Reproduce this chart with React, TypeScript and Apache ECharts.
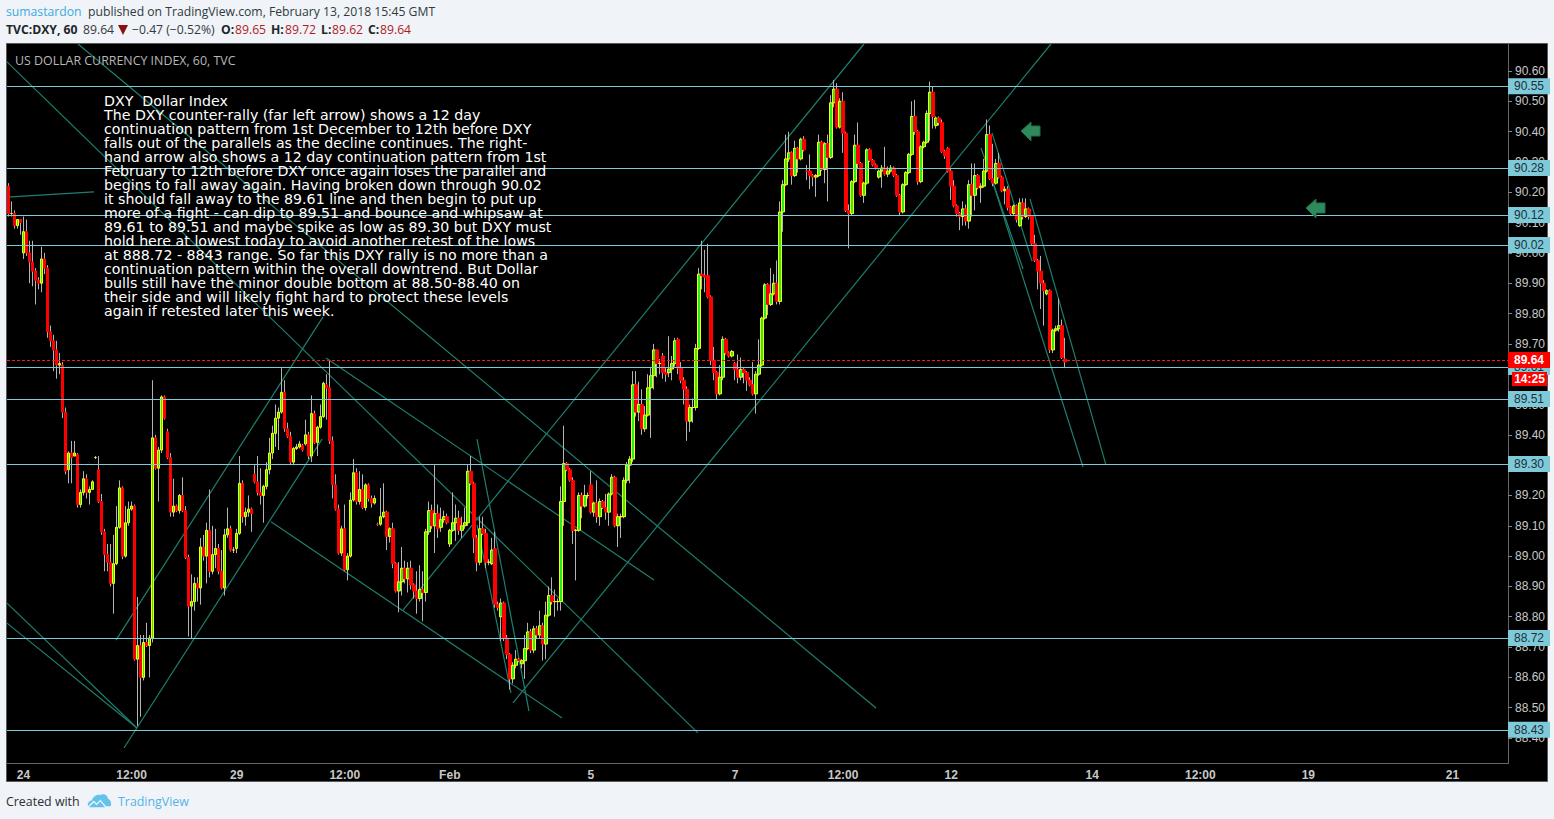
import React, { useEffect, useRef } from "react";
import * as echarts from "echarts";

// Each row: open, close, low, high
const barsJan24 = [
[90.22,90.13,90.12,90.23],[90.13,90.13,90.12,90.17],[90.13,90.09,90.08,90.14],[90.09,90.11,90.08,90.11],[90.11,90.10,90.06,90.11],
[90.00,90.07,89.98,90.12],[90.07,90.00,89.99,90.11],[90.00,89.97,89.90,90.04],[89.97,89.94,89.89,90.04],[89.94,89.91,89.83,89.95],
[89.91,89.90,89.88,89.92],[89.90,89.98,89.87,90.02],[89.98,89.95,89.93,90.00],[89.95,89.74,89.72,89.96],[89.74,89.71,89.69,89.76],
[89.71,89.68,89.61,89.73],[89.68,89.63,89.585,89.71],[89.63,89.635,89.60,89.67],[89.63,89.475,89.455,89.64],[89.475,89.28,89.27,89.49],
[89.285,89.34,89.24,89.345],[89.34,89.325,89.24,89.38],[89.33,89.34,89.33,89.38],[89.335,89.17,89.16,89.34],[89.17,89.21,89.16,89.22],
[89.21,89.255,89.20,89.28],[89.255,89.21,89.19,89.27],[89.21,89.22,89.17,89.23],[89.22,89.245,89.22,89.25],[89.325,89.325,89.32,89.33],
[89.285,89.18,89.175,89.33],[89.18,89.08,89.07,89.205],[89.08,89.005,88.95,89.09],[89.005,88.98,88.95,89.04],[88.98,88.91,88.90,89.04],
[88.91,88.975,88.81,89.07],[88.975,89.095,88.97,89.165],[89.095,89.225,89.09,89.25],[89.225,89.00,88.99,89.23],[89.00,89.11,88.995,89.165],
[89.11,89.155,89.10,89.18],[89.155,89.165,89.15,89.18],[89.165,88.66,88.655,89.17],[88.66,88.705,88.44,88.865],[88.705,88.60,88.47,88.74],
[88.60,88.715,88.59,88.74],[88.715,88.705,88.70,88.78],[88.705,88.73,88.60,88.74],[88.73,89.39,88.715,89.58],[89.39,89.29,89.285,89.40],
];
const barsJan26 = [
[89.29,89.35,89.18,89.36],[89.35,89.525,89.34,89.53],[89.525,89.455,89.45,89.53],[89.41,89.325,89.32,89.42],[89.325,89.145,89.13,89.34],
[89.145,89.165,89.13,89.255],[89.165,89.15,89.145,89.17],[89.15,89.20,89.14,89.205],[89.20,89.15,89.145,89.26],[89.15,88.995,88.99,89.165],
[88.995,88.835,88.735,89.005],[88.835,88.85,88.73,88.94],[88.85,88.91,88.82,88.93],[88.91,88.895,88.85,88.93],[88.895,89.03,88.84,89.06],
[89.03,89.00,88.985,89.07],[89.00,89.085,88.91,89.11],[89.085,88.95,88.93,89.22],[88.95,89.005,88.94,89.10],[89.005,89.025,88.96,89.09],
[89.025,88.95,88.94,89.04],[88.95,88.895,88.89,89.02],[88.895,89.07,88.87,89.09],[89.07,89.09,89.06,89.16],[89.09,89.02,89.015,89.10],
[89.02,89.02,89.01,89.03],[89.025,89.075,89.01,89.09],[89.075,89.24,89.07,89.33],[89.24,89.13,89.11,89.25],[89.13,89.145,89.10,89.16],
[89.145,89.155,89.13,89.20],[89.155,89.14,89.08,89.16],[89.27,89.245,89.24,89.30],[89.245,89.21,89.20,89.33],[89.21,89.20,89.17,89.29],
[89.20,89.23,89.11,89.235],[89.23,89.285,89.22,89.31],[89.285,89.34,89.27,89.39],[89.34,89.405,89.32,89.43],[89.405,89.455,89.36,89.50],
[89.455,89.475,89.35,89.49],[89.475,89.54,89.47,89.62],[89.54,89.42,89.41,89.58],[89.42,89.395,89.39,89.44],[89.395,89.31,89.30,89.41],
[89.31,89.355,89.30,89.36],[89.355,89.36,89.35,89.37],[89.36,89.37,89.355,89.38],[89.365,89.35,89.345,89.37],[89.37,89.40,89.365,89.45],
[89.40,89.33,89.32,89.41],[89.33,89.47,89.31,89.53],[89.47,89.375,89.37,89.48],[89.375,89.425,89.33,89.43],[89.425,89.46,89.42,89.50],
[89.46,89.57,89.455,89.575],[89.565,89.555,89.45,89.60],[89.555,89.38,89.37,89.645],[89.38,89.235,89.19,89.395],[89.235,89.155,89.15,89.27],
[89.155,89.01,89.005,89.17],[89.01,89.09,89.00,89.10],[89.09,88.955,88.95,89.17],[88.955,89.00,88.92,89.01],[89.00,89.185,88.995,89.21],
[89.185,89.275,89.18,89.32],[89.275,89.18,89.17,89.29],
];
const barsFeb1 = [
[89.18,89.22,89.17,89.28],[89.22,89.16,89.155,89.27],[89.16,89.235,89.15,89.24],[89.235,89.19,89.18,89.24],[89.19,89.175,89.16,89.20],
[89.175,89.19,89.17,89.20],[89.105,89.105,89.10,89.11],[89.105,89.13,89.10,89.225],[89.13,89.145,89.125,89.24],[89.145,89.065,89.02,89.15],
[89.065,89.09,89.045,89.095],[89.09,88.975,88.96,89.11],[88.975,88.885,88.88,88.98],[88.885,88.915,88.815,88.98],[88.915,88.96,88.87,89.03],
[88.96,88.925,88.91,88.985],[88.925,88.96,88.88,88.98],[88.96,88.905,88.89,88.985],[88.905,88.885,88.86,88.91],[88.885,88.86,88.81,88.95],
[88.86,88.89,88.85,88.97],[88.89,88.88,88.785,88.95],[88.88,89.08,88.85,89.09],[89.08,89.15,89.07,89.18],[89.15,89.10,89.09,89.17],
[89.10,89.14,89.01,89.30],[89.14,89.09,89.06,89.17],[89.095,89.12,89.08,89.16],[89.12,89.13,89.11,89.15],[89.13,89.11,89.105,89.14],
[89.04,89.085,89.03,89.09],[89.085,89.11,89.08,89.21],[89.11,89.125,89.05,89.17],[89.125,89.085,89.07,89.15],[89.085,89.10,89.06,89.13],
[89.10,89.11,89.09,89.16],[89.11,89.28,89.10,89.30],[89.28,89.24,89.235,89.33],[89.24,89.06,89.01,89.245],[89.06,88.98,88.95,89.07],
[88.98,89.09,88.97,89.13],[89.09,89.075,89.07,89.13],[89.075,88.98,88.96,89.09],[88.98,88.98,88.97,88.99],[88.975,89.02,88.97,89.06],
[89.025,88.84,88.83,89.08],[88.84,88.83,88.82,88.85],[88.80,88.845,88.72,88.86],[88.845,88.73,88.72,88.85],[88.73,88.675,88.66,88.74],
[88.675,88.595,88.56,88.68],[88.595,88.64,88.58,88.65],[88.64,88.66,88.63,88.69],[88.66,88.655,88.65,88.665],[88.645,88.655,88.63,88.66],
[88.655,88.695,88.595,88.74],[88.695,88.75,88.69,88.78],[88.75,88.69,88.68,88.76],[88.69,88.76,88.68,88.77],[88.76,88.74,88.73,88.77],
[88.74,88.77,88.73,88.82],[88.77,88.71,88.655,88.78],[88.71,88.805,88.66,88.85],[88.805,88.87,88.80,88.90],[88.87,88.85,88.84,88.93],
[88.85,88.85,88.80,88.89],[88.85,88.85,88.82,88.86],[88.85,89.18,88.82,89.23],[89.18,89.305,89.10,89.43],[89.305,89.285,89.28,89.31],
];
const barsFeb5 = [
[89.285,89.25,89.245,89.29],[89.25,89.085,89.04,89.26],[89.085,89.085,88.92,89.09],[89.085,89.20,89.08,89.21],[89.20,89.165,89.125,89.21],
[89.165,89.20,89.16,89.235],[89.20,89.20,89.19,89.21],[89.235,89.145,89.14,89.28],[89.145,89.175,89.13,89.18],[89.175,89.13,89.11,89.25],
[89.13,89.18,89.10,89.19],[89.18,89.16,89.155,89.185],[89.16,89.145,89.12,89.205],[89.145,89.205,89.10,89.21],[89.205,89.26,89.20,89.27],
[89.26,89.10,89.095,89.265],[89.10,89.13,89.03,89.14],[89.13,89.13,89.06,89.14],[89.13,89.25,89.125,89.26],[89.25,89.30,89.24,89.31],
[89.30,89.32,89.24,89.33],[89.32,89.565,89.31,89.61],[89.565,89.475,89.46,89.61],[89.475,89.50,89.445,89.575],[89.50,89.42,89.40,89.55],
[89.42,89.465,89.41,89.495],[89.465,89.555,89.46,89.60],[89.555,89.595,89.39,89.62],[89.595,89.68,89.55,89.70],[89.68,89.635,89.59,89.68],
[89.635,89.635,89.60,89.65],[89.66,89.605,89.585,89.67],[89.605,89.60,89.575,89.62],[89.605,89.617,89.59,89.725],[89.617,89.635,89.58,89.66],
[89.635,89.71,89.625,89.72],[89.715,89.62,89.60,89.72],[89.62,89.58,89.57,89.64],[89.58,89.55,89.50,89.59],[89.55,89.445,89.38,89.56],
[89.445,89.49,89.41,89.50],[89.49,89.49,89.44,89.52],[89.49,89.685,89.48,89.70],[89.685,89.93,89.68,89.95],[89.93,89.925,89.88,90.04],
[89.925,89.92,89.87,90.01],[89.925,89.855,89.85,90.03],[89.855,89.645,89.63,89.86],[89.645,89.605,89.58,89.69],[89.605,89.535,89.515,89.61],
];
const barsFeb7 = [
[89.535,89.59,89.53,89.63],[89.59,89.715,89.58,89.725],[89.715,89.67,89.665,89.72],[89.67,89.66,89.655,89.675],[89.66,89.675,89.655,89.68],
[89.635,89.615,89.58,89.64],[89.615,89.59,89.57,89.665],[89.59,89.615,89.58,89.655],[89.615,89.605,89.57,89.62],[89.605,89.58,89.545,89.61],
[89.58,89.565,89.56,89.59],[89.565,89.535,89.53,89.64],[89.535,89.60,89.47,89.61],[89.60,89.63,89.595,89.715],[89.63,89.785,89.625,89.79],
[89.785,89.895,89.78,89.90],[89.895,89.83,89.795,89.90],[89.83,89.865,89.825,89.95],[89.865,89.90,89.86,89.93],[89.90,89.84,89.83,89.975],
[89.84,90.135,89.83,90.17],[90.135,90.225,90.07,90.24],[90.225,90.31,90.22,90.39],[90.31,90.33,90.30,90.40],[90.33,90.255,90.225,90.335],
[90.255,90.345,90.25,90.37],[90.345,90.31,90.265,90.35],[90.31,90.375,90.305,90.38],[90.375,90.34,90.335,90.385],[90.27,90.27,90.24,90.29],
[90.27,90.255,90.21,90.325],[90.255,90.25,90.22,90.26],[90.25,90.255,90.185,90.26],[90.255,90.365,90.25,90.39],[90.365,90.275,90.27,90.37],
[90.275,90.36,90.23,90.365],[90.36,90.315,90.17,90.39],[90.315,90.495,90.31,90.52],[90.495,90.54,90.48,90.57],[90.54,90.415,90.41,90.56],
[90.415,90.50,90.41,90.51],[90.50,90.395,90.33,90.53],[90.395,90.14,90.135,90.40],[90.14,90.13,90.015,90.16],[90.13,90.235,90.125,90.24],
[90.235,90.355,90.23,90.39],[90.355,90.295,90.28,90.43],
];
const barsFeb9 = [
[90.295,90.19,90.185,90.30],[90.19,90.23,90.165,90.235],[90.23,90.34,90.225,90.345],[90.34,90.305,90.30,90.345],[90.305,90.29,90.285,90.31],
[90.29,90.28,90.275,90.295],[90.25,90.27,90.245,90.275],[90.27,90.28,90.215,90.29],[90.28,90.26,90.255,90.35],[90.26,90.27,90.25,90.285],
[90.27,90.28,90.265,90.29],[90.28,90.255,90.25,90.285],[90.255,90.19,90.185,90.26],[90.19,90.135,90.125,90.195],[90.135,90.225,90.13,90.23],
[90.225,90.265,90.22,90.27],[90.265,90.325,90.26,90.33],[90.325,90.45,90.32,90.50],[90.45,90.40,90.39,90.505],[90.40,90.235,90.225,90.405],
[90.235,90.35,90.23,90.355],[90.35,90.365,90.345,90.37],[90.365,90.46,90.36,90.47],[90.46,90.53,90.37,90.565],[90.53,90.45,90.41,90.55],
[90.42,90.445,90.41,90.45],[90.445,90.43,90.42,90.45],[90.43,90.335,90.33,90.44],[90.335,90.32,90.31,90.34],[90.345,90.27,90.265,90.35],
[90.27,90.22,90.175,90.28],[90.22,90.155,90.15,90.24],[90.155,90.13,90.12,90.16],[90.13,90.12,90.075,90.135],[90.12,90.145,90.09,90.17],
[90.145,90.105,90.09,90.16],[90.105,90.225,90.08,90.24],[90.225,90.19,90.12,90.295],[90.19,90.255,90.14,90.295],[90.255,90.215,90.21,90.26],
[90.215,90.22,90.165,90.23],[90.22,90.27,90.215,90.31],[90.27,90.39,90.265,90.44],[90.39,90.245,90.24,90.42],[90.245,90.23,90.22,90.36],
[90.23,90.295,90.225,90.31],[90.295,90.25,90.245,90.33],[90.25,90.205,90.20,90.255],[90.205,90.21,90.16,90.22],[90.21,90.15,90.14,90.22],
[90.15,90.13,90.125,90.155],[90.13,90.155,90.125,90.16],[90.155,90.11,90.10,90.16],[90.09,90.165,90.085,90.18],[90.165,90.12,90.11,90.18],
[90.12,90.145,90.115,90.18],[90.145,90.12,90.11,90.15],[90.12,90.03,90.025,90.125],[90.03,89.975,89.97,90.06],[89.975,89.94,89.88,89.98],
[89.94,89.90,89.815,89.99],[89.90,89.875,89.76,89.91],[89.865,89.875,89.86,89.88],[89.875,89.68,89.67,89.88],[89.68,89.745,89.67,89.75],
[89.745,89.75,89.74,89.76],[89.75,89.76,89.74,89.85],[89.76,89.655,89.65,89.78],[89.65,89.64,89.62,89.72],
];

const barSlots = 500;
const trendSpan = 501;
const tickSlots = [5, 41, 76, 112, 147, 194, 242, 278, 314, 361, 397, 433, 481];
const tickNames = ["24", "12:00", "29", "12:00", "Feb", "5", "7", "12:00", "12", "14", "12:00", "19", "21"];
const priceTicks = [88.4, 88.5, 88.6, 88.7, 88.8, 88.9, 89.0, 89.1, 89.2, 89.3, 89.4, 89.5, 89.6, 89.7, 89.8, 89.9, 90.0, 90.1, 90.2, 90.3, 90.4, 90.5, 90.6];

const levelValues = [90.55, 90.28, 90.125, 90.026, 89.624, 89.518, 89.304, 88.73, 88.427];
const levelNames = ["90.55", "90.28", "90.12", "90.02", "89.61", "89.51", "89.30", "88.72", "88.43"];
const lastPrice = 89.647;
const lastPriceName = "89.64";

// Trend lines: start slot, start price, end slot, end price
const trendLines = [
  [-0.5, 90.63, 230.1, 88.417],
  [23.2, 90.689, 289.55, 88.499],
  [-0.5, 88.845, 42.89, 88.433],
  [-0.5, 88.779, 42.89, 88.433],
  [38.55, 88.367, 104.64, 89.386],
  [35.88, 88.723, 104.97, 89.789],
  [105.98, 89.653, 215.45, 88.921],
  [87.62, 89.113, 184.75, 88.466],
  [131.68, 88.822, 285.55, 90.689],
  [168.39, 88.516, 347.96, 90.689],
  [156.38, 89.386, 173.73, 88.489],
  [156.38, 89.103, 167.72, 88.549],
  [-0.5, 90.184, 28.54, 90.201],
  [328.6, 90.231, 358.65, 89.294],
  [324.6, 90.346, 338.62, 89.947],
  [328.27, 90.396, 341.62, 89.973],
  [340.96, 90.178, 366.32, 89.30],
];

const noteLines = [
  "DXY  Dollar Index",
  "The DXY counter-rally (far left arrow) shows a 12 day",
  "continuation pattern from 1st December to 12th before DXY",
  "falls out of the parallels as the decline continues. The right-",
  "hand arrow also shows a 12 day continuation pattern from 1st",
  "February to 12th before DXY once again loses the parallel and",
  "begins to fall away again. Having broken down through 90.02",
  "it should fall away to the 89.61 line and then begin to put up",
  "more of a fight - can dip to 89.51 and bounce and whipsaw at",
  "89.61 to 89.51 and maybe spike as low as 89.30 but DXY must",
  "hold here at lowest today to avoid another retest of the lows",
  "at 888.72 - 8843 range. So far this DXY rally is no more than a",
  "continuation pattern within the overall downtrend. But Dollar",
  "bulls still have the minor double bottom at 88.50-88.40 on",
  "their side and will likely fight hard to protect these levels",
  "again if retested later this week.",
];

const UI_FONT = "'Open Sans', 'Noto Sans', sans-serif";
const AXIS_FONT = "'Liberation Sans', Arial, sans-serif";
const TEAL = "#1e7f70";
const LEVEL = "#7fcad9";

echarts.graphic.registerShape(
  "tvLogo",
  echarts.graphic.extendPath(
    "M0 14 C-1 10 2 8 4 8 C5 4 9 1 13 2 C16 0 21 2 21 6 C24 7 25 11 24 14 L19 14 L13 7 L9 11 L6 8 Z M1 15 L6 10 L9 13 L13 9 L18 15 Z",
    {}
  ) as any
);

const headText = (x: number, y: number, text: string, fill: string, extra: any = {}) => ({
  type: "text",
  x,
  y,
  z: 50,
  style: { text, fill, font: `12.2px ${UI_FONT}`, textVerticalAlign: "middle", ...extra },
});
const boldHead = { font: `bold 12.2px ${UI_FONT}` };

function buildOption() {
  const bars = [...barsJan24, ...barsJan26, ...barsFeb1, ...barsFeb5, ...barsFeb7, ...barsFeb9];
  const categories = Array.from({ length: barSlots }, (_, i) => {
    const at = tickSlots.indexOf(i);
    return at >= 0 ? tickNames[at] : "";
  });
  const hasName = (_: number, v: string) => v !== "";
  const bodies = bars.map(([o, c]) => [o, c, Math.min(o, c), Math.max(o, c)]);

  const tagLabel = (bg: string, color: string, weight: string) => ({
    show: true,
    position: "end",
    distance: 0,
    formatter: "{b}",
    backgroundColor: bg,
    color,
    fontWeight: weight,
    fontFamily: AXIS_FONT,
    fontSize: 12,
    padding: [2, 6, 2, 6],
    lineHeight: 12,
  });

  return {
    animation: false,
    backgroundColor: "#f0f3f7",
    grid: { left: 7, top: 44, width: 1501, height: 719.5, containLabel: false },
    xAxis: [
      {
        type: "category",
        data: categories,
        boundaryGap: true,
        axisLine: { onZero: false, lineStyle: { color: "#666666" } },
        axisTick: { interval: hasName, alignWithLabel: true, length: 4, lineStyle: { color: "#888888" } },
        axisLabel: { interval: hasName, color: "#c8c8c8", fontFamily: AXIS_FONT, fontSize: 12, fontWeight: "bold", margin: 5 },
        splitLine: { show: false },
      },
      { type: "value", min: -0.5, max: trendSpan - 0.5, show: false },
    ],
    yAxis: {
      type: "value",
      position: "right",
      min: 88.316,
      max: 90.689,
      axisLine: { show: true, onZero: false, lineStyle: { color: "#666666" } },
      axisTick: { show: true, length: 4, customValues: priceTicks, lineStyle: { color: "#888888" } },
      axisLabel: {
        customValues: priceTicks,
        color: "#c8c8c8",
        fontFamily: AXIS_FONT,
        fontSize: 12,
        margin: 7,
        formatter: (v: number) => v.toFixed(2),
      },
      splitLine: { show: false },
    },
    series: [
      {
        type: "line",
        z: 1,
        data: [],
        markLine: {
          silent: true,
          symbol: "none",
          animation: false,
          precision: 3,
          lineStyle: { color: LEVEL, width: 1, type: "solid" },
          label: tagLabel(LEVEL, "#20303a", "normal"),
          data: levelValues.map((v, i) => ({ yAxis: v, name: levelNames[i] })),
        },
      },
      ...trendLines.map(([x1, y1, x2, y2]) => ({
        type: "line",
        xAxisIndex: 1,
        z: 1,
        symbol: "none",
        silent: true,
        lineStyle: { color: TEAL, width: 1.2 },
        data: [[x1, y1], [x2, y2]],
      })),
      {
        type: "candlestick",
        z: 3,
        barWidth: 1,
        silent: true,
        itemStyle: { color: "#b4b4b4", color0: "#b4b4b4", borderColor: "#b4b4b4", borderColor0: "#b4b4b4", borderWidth: 1 },
        data: bars,
      },
      {
        type: "candlestick",
        z: 4,
        barWidth: 3,
        silent: true,
        itemStyle: { color: "#22ee22", color0: "#ff0000", borderColor: "#ffff00", borderColor0: "#ff0000", borderWidth: 1 },
        data: bodies,
      },
      {
        type: "line",
        z: 6,
        data: [],
        markLine: {
          silent: true,
          symbol: "none",
          animation: false,
          precision: 3,
          lineStyle: { color: "#ff1a1a", width: 1, type: [3, 2] },
          label: tagLabel("#ff0000", "#ffffff", "bold"),
          data: [{ yAxis: lastPrice, name: lastPriceName }],
        },
      },
    ],
    graphic: [
      { type: "rect", z: -5, silent: true, shape: { x: 6.5, y: 43.5, width: 1541, height: 738 }, style: { fill: "#000000", stroke: "#5a5a5a", lineWidth: 1 } },
      { type: "rect", z: 40, shape: { x: 1512, y: 372, width: 35, height: 14 }, style: { fill: "#ff0000" } },
      { type: "text", x: 1529.5, y: 379, z: 41, style: { text: "14:25", fill: "#ffffff", font: `bold 12px ${AXIS_FONT}`, textAlign: "center", textVerticalAlign: "middle" } },
      headText(6, 11, "sumastardon", "#3fa9df"),
      headText(88, 11, "published on TradingView.com, February 13, 2018 15:45 GMT", "#2f3a40"),
      headText(6, 29, "TVC:DXY, 60", "#20262a", boldHead),
      headText(83, 29, "89.64", "#33393d"),
      { type: "polygon", z: 50, shape: { points: [[118, 25], [128, 25], [123, 35]] }, style: { fill: "#8b1010" } },
      headText(132, 29, "−0.47 (−0.52%)", "#33393d"),
      headText(221, 29, "O:", "#20262a", boldHead),
      headText(235, 29, "89.65", "#b01c1c"),
      headText(271, 29, "H:", "#20262a", boldHead),
      headText(285, 29, "89.72", "#b01c1c"),
      headText(321, 29, "L:", "#20262a", boldHead),
      headText(332, 29, "89.62", "#b01c1c"),
      headText(368, 29, "C:", "#20262a", boldHead),
      headText(380, 29, "89.64", "#b01c1c"),
      headText(15, 60, "US DOLLAR CURRENCY INDEX, 60, TVC", "#b8b8b8", { font: `12.4px ${UI_FONT}` }),
      {
        type: "text",
        x: 104,
        y: 94,
        z: 45,
        style: { text: noteLines.join("\n"), fill: "#ffffff", font: "14.2px 'DejaVu Sans', Verdana, sans-serif", lineHeight: 14 },
      },
      { type: "polygon", z: 30, shape: { points: [[1021, 131], [1031, 122], [1031, 126], [1040, 126], [1040, 136], [1031, 136], [1031, 141]] }, style: { fill: "#2f8a5b", stroke: "#1f6f48", lineWidth: 1 } },
      { type: "polygon", z: 30, shape: { points: [[1306, 208], [1316, 199], [1316, 203], [1325, 203], [1325, 213], [1316, 213], [1316, 218]] }, style: { fill: "#2f8a5b", stroke: "#1f6f48", lineWidth: 1 } },
      headText(6, 801, "Created with", "#2a2f33", { font: `12.4px ${UI_FONT}` }),
      { type: "tvLogo", z: 50, x: 88, y: 793, scaleX: 0.95, scaleY: 0.95, style: { fill: "#63c3ea" } },
      headText(118, 801, "TradingView", "#55b4e6", { font: `12.4px ${UI_FONT}` }),
    ],
  };
}

export default function App() {
  const ref = useRef<HTMLDivElement>(null);
  useEffect(() => {
    document.body.style.margin = "0";
    document.body.style.background = "#f0f3f7";
    const chart = echarts.init(ref.current!, undefined, { renderer: "svg" });
    chart.setOption(buildOption() as any);
    return () => chart.dispose();
  }, []);
  return <div ref={ref} style={{ position: "absolute", left: 0, top: 0, width: 1554, height: 819 }} />;
}
